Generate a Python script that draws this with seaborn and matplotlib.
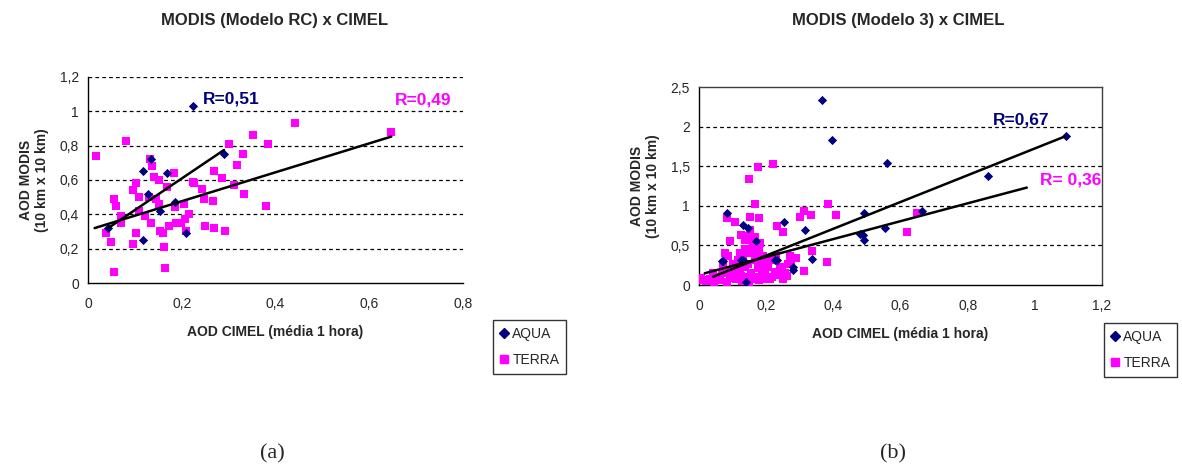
import numpy as np
import pandas as pd
import seaborn as sns
import matplotlib.pyplot as plt
from matplotlib.ticker import FuncFormatter, MultipleLocator
from matplotlib.lines import Line2D

# panel (a): MODIS (Modelo RC) x CIMEL
a_aqua_x = [0.224, 0.290, 0.134, 0.117, 0.168, 0.117, 0.208, 0.043, 0.153, 0.128, 0.185]
a_aqua_y = [1.03, 0.75, 0.72, 0.65, 0.64, 0.25, 0.29, 0.32, 0.42, 0.52, 0.47]

a_terra_x = [0.016, 0.080, 0.055, 0.048, 0.039, 0.055, 0.060, 0.071, 0.071, 0.095,
             0.103, 0.095, 0.103, 0.108, 0.108, 0.121, 0.130, 0.133, 0.137, 0.140,
             0.151, 0.134, 0.146, 0.151, 0.153, 0.159, 0.162, 0.165, 0.169, 0.183,
             0.185, 0.173, 0.188, 0.199, 0.206, 0.204, 0.215, 0.210, 0.225, 0.244,
             0.247, 0.250, 0.267, 0.268, 0.268, 0.286, 0.292, 0.301, 0.311, 0.317,
             0.330, 0.332, 0.351, 0.383, 0.380, 0.441, 0.646, 0.224]
a_terra_y = [0.74, 0.83, 0.064, 0.24, 0.29, 0.49, 0.45, 0.39, 0.35, 0.23,
             0.29, 0.54, 0.58, 0.50, 0.42, 0.39, 0.50, 0.72, 0.68, 0.62,
             0.60, 0.35, 0.49, 0.46, 0.30, 0.29, 0.21, 0.09, 0.56, 0.64,
             0.44, 0.33, 0.35, 0.35, 0.37, 0.46, 0.40, 0.30, 0.58, 0.55,
             0.49, 0.33, 0.48, 0.65, 0.32, 0.61, 0.30, 0.81, 0.57, 0.69,
             0.75, 0.52, 0.86, 0.81, 0.45, 0.93, 0.88, 0.59]

# panel (b): MODIS (Modelo 3) x CIMEL
b_aqua_x = [0.365, 0.395, 0.559, 0.862, 1.093, 0.491, 0.491, 0.487, 0.479, 0.554,
            0.663, 0.252, 0.317, 0.335, 0.082, 0.131, 0.131, 0.070, 0.232, 0.280,
            0.126, 0.280, 0.226, 0.139, 0.067, 0.171, 0.146]
b_aqua_y = [2.33, 1.83, 1.54, 1.38, 1.88, 0.915, 0.57, 0.63, 0.65, 0.72,
            0.93, 0.79, 0.70, 0.33, 0.91, 0.76, 0.32, 0.30, 0.32, 0.19,
            0.32, 0.23, 0.32, 0.04, 0.30, 0.55, 0.72]

b_terra_x = [0.221, 0.176, 0.149, 0.166, 0.151, 0.179, 0.082, 0.106, 0.091, 0.126,
             0.151, 0.136, 0.181, 0.231, 0.250, 0.300, 0.312, 0.332, 0.383, 0.408,
             0.380, 0.335, 0.312, 0.618, 0.648, 0.077, 0.116,
             0.012, 0.032, 0.052, 0.067, 0.082, 0.091, 0.106, 0.121, 0.136, 0.146,
             0.156, 0.166, 0.176, 0.186, 0.196, 0.206, 0.216, 0.226, 0.236, 0.246,
             0.255, 0.265, 0.275, 0.290, 0.270, 0.180, 0.161, 0.146, 0.072, 0.042,
             0.101, 0.131, 0.190, 0.200, 0.220, 0.230, 0.240, 0.111, 0.141, 0.171,
             0.200, 0.150, 0.180, 0.121, 0.062, 0.087,
             0.005, 0.022, 0.045, 0.098, 0.128, 0.158, 0.188, 0.160, 0.145, 0.168,
             0.210, 0.118, 0.085, 0.250, 0.262, 0.138, 0.170, 0.195, 0.155, 0.125]
b_terra_y = [1.53, 1.49, 1.34, 1.02, 0.86, 0.84, 0.84, 0.79, 0.55, 0.63,
             0.70, 0.57, 0.53, 0.74, 0.67, 0.86, 0.93, 0.89, 1.02, 0.88,
             0.29, 0.43, 0.18, 0.67, 0.91, 0.40, 0.32,
             0.06, 0.08, 0.105, 0.15, 0.04, 0.13, 0.19, 0.15, 0.23, 0.27,
             0.15, 0.32, 0.21, 0.27, 0.15, 0.23, 0.105, 0.17, 0.13, 0.19,
             0.15, 0.27, 0.32, 0.34, 0.36, 0.44, 0.48, 0.40, 0.23, 0.15,
             0.27, 0.36, 0.36, 0.32, 0.32, 0.36, 0.23, 0.08, 0.105, 0.105,
             0.08, 0.04, 0.06, 0.40, 0.06, 0.36,
             0.09, 0.05, 0.03, 0.09, 0.05, 0.07, 0.15, 0.52, 0.62, 0.60,
             0.07, 0.25, 0.18, 0.08, 0.11, 0.45, 0.42, 0.20, 0.10, 0.12]

# linear trendlines: slope, intercept, x start, x end
a_trend = {'AQUA': (1.84, 0.241, 0.043, 0.290), 'TERRA': (0.842, 0.308, 0.014, 0.647)}
b_trend = {'AQUA': (1.69, 0.034, 0.042, 1.090), 'TERRA': (1.128, 0.129, 0.017, 0.976)}

COLORS = {'AQUA': '#000080', 'TERRA': '#FF00FF'}
MARKERS = {'AQUA': 'D', 'TERRA': 's'}


def make_frame(aqua_x, aqua_y, terra_x, terra_y):
    df_aqua = pd.DataFrame({'x': aqua_x, 'y': aqua_y, 'sat': 'AQUA'})
    df_terra = pd.DataFrame({'x': terra_x, 'y': terra_y, 'sat': 'TERRA'})
    return pd.concat([df_aqua, df_terra], ignore_index=True)


def comma_fmt(v, pos):
    return '{:g}'.format(round(v, 2)).replace('.', ',')


def draw_panel(ax, df, trend, xmax, ymax, ystep, boxed):
    for sat in ['TERRA', 'AQUA']:
        sub = df[df.sat == sat]
        sns.scatterplot(data=sub, x='x', y='y', ax=ax, color=COLORS[sat],
                        marker=MARKERS[sat], s=30 if sat == 'TERRA' else 22,
                        linewidth=0, legend=False, zorder=3)
    for sat in ['AQUA', 'TERRA']:
        slope, icpt, x0, x1 = trend[sat]
        xs = np.array([x0, x1])
        ax.plot(xs, slope * xs + icpt, color='black', lw=1.8, zorder=4)
    ax.set_xlim(0, xmax)
    ax.set_ylim(0, ymax)
    ax.xaxis.set_major_locator(MultipleLocator(0.2))
    ax.yaxis.set_major_locator(MultipleLocator(ystep))
    ax.xaxis.set_major_formatter(FuncFormatter(comma_fmt))
    ax.yaxis.set_major_formatter(FuncFormatter(comma_fmt))
    top = ymax if not boxed else ymax - ystep
    for yv in np.arange(ystep, top + 1e-9, ystep):
        ax.axhline(yv, color='black', lw=0.9, ls=(0, (3, 2.5)), zorder=1)
    for side in ['left', 'bottom']:
        ax.spines[side].set_color('black')
        ax.spines[side].set_linewidth(1.0)
    for side in ['top', 'right']:
        ax.spines[side].set_visible(boxed)
        ax.spines[side].set_color('#404040')
        ax.spines[side].set_linewidth(1.0)
    ax.tick_params(axis='y', direction='inout', length=7, width=1, labelsize=10, pad=3)
    ax.tick_params(axis='x', direction='in', length=5, width=1, labelsize=10, pad=10)
    ax.set_xlabel('AOD CIMEL (média 1 hora)', fontsize=10, fontweight='bold', labelpad=10)
    ax.set_ylabel('AOD MODIS\n(10 km x 10 km)', fontsize=10, fontweight='bold',
                  linespacing=1.1, labelpad=8)


sns.set_style('white')
plt.rcParams['font.family'] = ['Liberation Sans', 'DejaVu Sans']

fig = plt.figure(figsize=(11.82, 4.66), dpi=100)
ax_a = fig.add_axes([0.0745, 0.3927, 0.3172, 0.4421])
ax_b = fig.add_axes([0.5914, 0.3884, 0.3409, 0.4249])

df_a = make_frame(a_aqua_x, a_aqua_y, a_terra_x, a_terra_y)
df_b = make_frame(b_aqua_x, b_aqua_y, b_terra_x, b_terra_y)

draw_panel(ax_a, df_a, a_trend, 0.8, 1.2, 0.2, boxed=False)
draw_panel(ax_b, df_b, b_trend, 1.2, 2.5, 0.5, boxed=True)

fig.text(275 / 1182, 1 - 20 / 466, 'MODIS (Modelo RC) x CIMEL', fontsize=12,
         fontweight='bold', ha='center', va='center')
fig.text(898 / 1182, 1 - 20 / 466, 'MODIS (Modelo 3) x CIMEL', fontsize=12,
         fontweight='bold', ha='center', va='center')

ax_a.text(0.245, 1.07, 'R=0,51', color=COLORS['AQUA'], fontsize=12.5,
          fontweight='bold', va='center')
ax_a.text(0.655, 1.066, 'R=0,49', color=COLORS['TERRA'], fontsize=12.5,
          fontweight='bold', va='center')
ax_b.text(0.875, 2.08, 'R=0,67', color=COLORS['AQUA'], fontsize=12.5,
          fontweight='bold', va='center')
ax_b.text(1.015, 1.33, 'R= 0,36', color=COLORS['TERRA'], fontsize=12.5,
          fontweight='bold', va='center')

handles = [Line2D([], [], ls='', marker=MARKERS[s], color=COLORS[s],
                  markersize=5 if s == 'AQUA' else 6) for s in ['AQUA', 'TERRA']]
for bbox in [(493 / 1182, 1 - 374 / 466), (1104 / 1182, 1 - 377 / 466)]:
    leg = fig.legend(handles, ['AQUA', 'TERRA'], loc='lower left', bbox_to_anchor=bbox,
                     fontsize=10, frameon=True, fancybox=False, edgecolor='black',
                     handlelength=0.6, handletextpad=0.3, borderpad=0.5,
                     labelspacing=0.9, borderaxespad=0)
    leg.get_frame().set_linewidth(1.0)

fig.text(272 / 1182, 1 - 454 / 466, '(a)', fontsize=16, family='Liberation Serif',
         ha='center', va='center')
fig.text(893 / 1182, 1 - 454 / 466, '(b)', fontsize=16, family='Liberation Serif',
         ha='center', va='center')

plt.savefig('out.png', dpi=100)
plt.close()
